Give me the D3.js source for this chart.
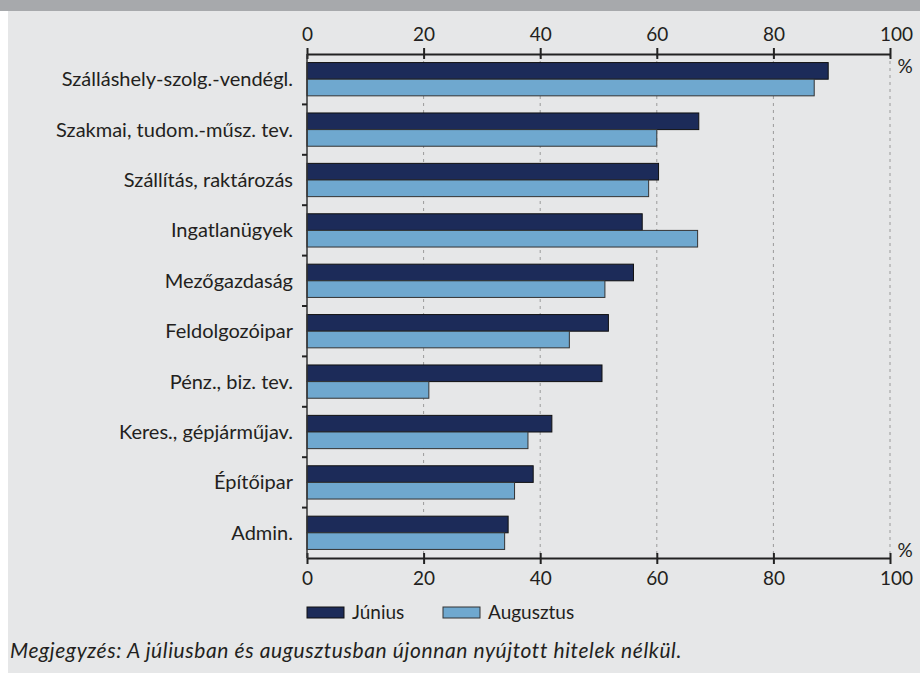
<!DOCTYPE html>
<html><head><meta charset="utf-8">
<script src="https://cdn.jsdelivr.net/npm/d3@7"></script>
<style>
body{margin:0;padding:0;background:#fff;}
svg{display:block;}
</style></head>
<body>
<svg id="c" width="920" height="675"></svg>
<script>
const categories = ["Szálláshely-szolg.-vendégl.","Szakmai, tudom.-műsz. tev.","Szállítás, raktározás","Ingatlanügyek","Mezőgazdaság","Feldolgozóipar","Pénz., biz. tev.","Keres., gépjárműjav.","Építőipar","Admin."];
const junius = [89.4, 67.2, 60.3, 57.5, 56.0, 51.7, 50.6, 42.0, 38.8, 34.5];
const augusztus = [87.0, 60.0, 58.6, 67.0, 51.1, 45.0, 20.9, 37.9, 35.6, 33.9];
const seriesNames = ["Június","Augusztus"];
const tickValues = [0,20,40,60,80,100];
const note = "Megjegyzés: A júliusban és augusztusban újonnan nyújtott hitelek nélkül.";

const colors = ["#1c2b59","#6fa8cf"];
const strokes = ["#111","#333"];
const font = "Lato, 'Open Sans', sans-serif";
const txt = "#231f20";
const svg = d3.select("#c");

svg.append("rect").attr("x",0).attr("y",0).attr("width",920).attr("height",675).attr("fill","#fff");
svg.append("rect").attr("x",0).attr("y",0).attr("width",920).attr("height",11).attr("fill","#a7a9ac");
svg.append("rect").attr("x",8).attr("y",11).attr("width",912).attr("height",662).attr("fill","#e6e7e8");

const x = d3.scaleLinear().domain([0,100]).range([307,890]);
const y0 = d3.scaleBand().domain(categories).range([54,558]).paddingInner(0.34).paddingOuter(0.17);
const y1 = d3.scaleBand().domain(seriesNames).range([0,y0.bandwidth()]);
const yb = d3.scaleBand().domain(categories).range([54,558]);

// gridlines
svg.append("g").selectAll("line").data(tickValues.slice(1)).join("line")
  .attr("x1",d=>x(d)).attr("x2",d=>x(d)).attr("y1",54).attr("y2",558)
  .attr("stroke","#9a9a9a").attr("stroke-width",1).attr("stroke-dasharray","3,4");

// bars
const data = categories.map((c,i)=>({c, vals:[junius[i],augusztus[i]]}));
const g = svg.append("g");
data.forEach(d=>{
  d.vals.forEach((v,j)=>{
    g.append("rect")
      .attr("x",x(0)).attr("y",y0(d.c)+y1(seriesNames[j]))
      .attr("width",x(v)-x(0)).attr("height",y1.bandwidth())
      .attr("fill",colors[j]).attr("stroke",strokes[j]).attr("stroke-width",1);
  });
});

// top axis
const axTop = svg.append("g").attr("transform","translate(0,54)")
  .call(d3.axisTop(x).tickValues(tickValues).tickSize(6).tickPadding(7).tickSizeOuter(0));
// bottom axis
const axBot = svg.append("g").attr("transform","translate(0,558)")
  .call(d3.axisBottom(x).tickValues(tickValues).tickSize(6).tickPadding(8).tickSizeOuter(0));
[axTop,axBot].forEach(a=>{
  a.select(".domain").attr("stroke","#222").attr("stroke-width",2);
  a.selectAll(".tick line").attr("stroke","#222").attr("stroke-width",2);
  a.selectAll("text").attr("font-family",font).attr("font-size",19).attr("fill",txt)
    .attr("dx",d=>d===100?6:0);
});
axBot.selectAll(".tick line").attr("y1",-5);
axTop.selectAll(".tick line").attr("y1",5);

// left axis
svg.append("line").attr("x1",307).attr("x2",307).attr("y1",54).attr("y2",558).attr("stroke","#333").attr("stroke-width",1.5);
svg.append("g").selectAll("line").data(categories.slice(1)).join("line")
  .attr("x1",302).attr("x2",307).attr("y1",d=>yb(d)).attr("y2",d=>yb(d))
  .attr("stroke","#222").attr("stroke-width",2);
svg.append("g").selectAll("text").data(categories).join("text")
  .attr("x",293).attr("y",d=>y0(d)+y0.bandwidth()/2).attr("dy","0.35em")
  .attr("text-anchor","end").attr("font-family",font).attr("font-size",20)
  .attr("fill",txt).text(d=>d);

// percent labels
svg.append("text").attr("x",905).attr("y",73).attr("text-anchor","middle")
  .attr("font-family",font).attr("font-size",19).attr("fill",txt).text("%");
svg.append("text").attr("x",905).attr("y",557).attr("text-anchor","middle")
  .attr("font-family",font).attr("font-size",19).attr("fill",txt).text("%");

// legend
const lx = [307,443];
seriesNames.forEach((s,j)=>{
  svg.append("rect").attr("x",lx[j]).attr("y",607).attr("width",37).attr("height",11)
    .attr("fill",colors[j]).attr("stroke",strokes[j]).attr("stroke-width",1);
  svg.append("text").attr("x",lx[j]+45).attr("y",612).attr("dy","0.35em")
    .attr("font-family",font).attr("font-size",19).attr("fill",txt).text(s);
});

// note
svg.append("text").attr("x",10).attr("y",658)
  .attr("font-family",font).attr("font-style","italic").attr("font-size",21)
  .attr("letter-spacing",0.6)
  .attr("fill",txt).text(note);
</script>
</body></html>
